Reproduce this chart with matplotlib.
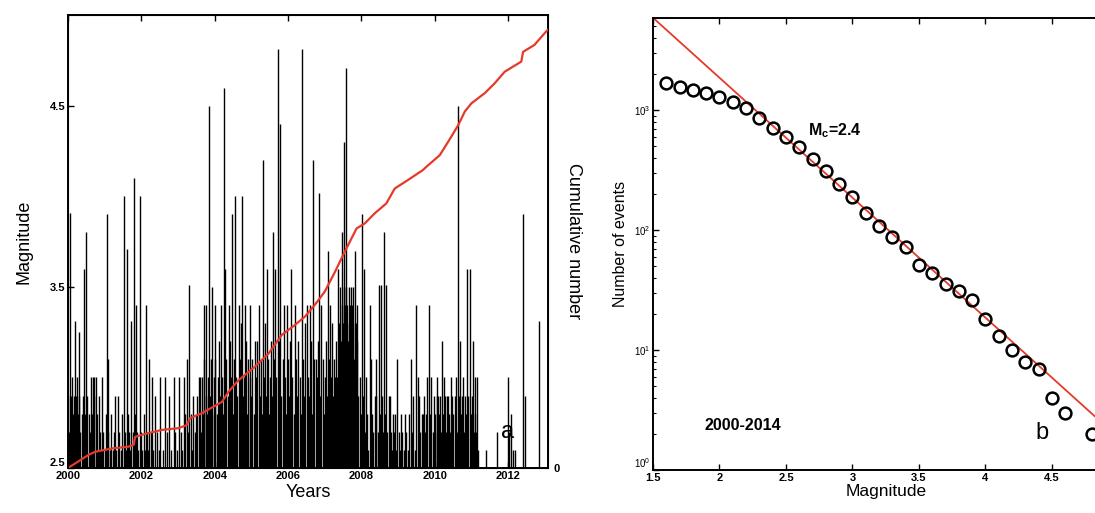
import numpy as np
import matplotlib
matplotlib.use("Agg")
import matplotlib.pyplot as plt
from matplotlib.ticker import LogLocator, NullFormatter

plt.rcParams['font.family'] = ['Liberation Sans', 'DejaVu Sans']
plt.rcParams['mathtext.fontset'] = 'custom'
plt.rcParams['mathtext.rm'] = 'Liberation Sans'
plt.rcParams['mathtext.bf'] = 'Liberation Sans:bold'

# --- (a) catalogue time series ---
# larger events (year, magnitude)
spike_year = [2000.06, 2000.20, 2000.29, 2000.43, 2000.50, 2000.68, 2000.72, 2000.84, 2000.93,
              2001.06, 2001.10, 2001.29, 2001.36, 2001.52, 2001.60, 2001.73, 2001.79, 2001.85,
              2001.95, 2002.13, 2002.22, 2002.29, 2002.38, 2002.52, 2002.65, 2002.76, 2002.88,
              2003.03, 2003.15, 2003.24, 2003.31, 2003.42, 2003.56, 2003.70, 2003.76, 2003.85,
              2003.92, 2004.00, 2004.17, 2004.26, 2004.29, 2004.38, 2004.47, 2004.56, 2004.65,
              2004.75, 2004.83, 2004.97, 2005.10, 2005.20, 2005.31, 2005.42, 2005.59, 2005.65,
              2005.72, 2005.79, 2005.88, 2005.97, 2006.09, 2006.19, 2006.38, 2006.51, 2006.60,
              2006.69, 2006.76, 2006.85, 2006.91, 2007.08, 2007.14, 2007.28, 2007.37, 2007.46,
              2007.53, 2007.58, 2007.82, 2007.87, 2008.02, 2008.07, 2008.23, 2008.27, 2008.36,
              2008.41, 2008.47, 2008.53, 2008.61, 2008.68, 2008.77, 2008.86, 2008.98, 2009.09,
              2009.18, 2009.35, 2009.41, 2009.50, 2009.55, 2009.68, 2009.84, 2009.91, 2010.05,
              2010.09, 2010.20, 2010.27, 2010.36, 2010.45, 2010.55, 2010.64, 2010.68, 2010.77,
              2010.89, 2010.95, 2011.04, 2011.11, 2011.16, 2011.41, 2011.71, 2012.00, 2012.09,
              2012.18, 2012.41, 2012.45, 2012.84]
spike_mag = [3.91, 3.31, 3.25, 3.60, 3.80, 3.00, 3.00, 2.90, 3.00,
             3.90, 3.10, 2.90, 2.90, 4.00, 3.71, 3.31, 4.10, 3.40,
             4.00, 3.40, 3.10, 3.00, 2.90, 3.00, 3.00, 2.90, 3.00,
             3.00, 3.00, 3.10, 3.51, 2.90, 3.00, 3.40, 3.40, 4.50,
             3.50, 3.40, 3.40, 4.60, 3.60, 3.40, 3.90, 4.00, 3.40,
             4.00, 3.40, 3.40, 3.20, 3.40, 4.20, 3.60, 3.80, 3.60,
             4.81, 4.40, 3.40, 3.40, 3.60, 3.40, 4.81, 3.40, 3.40,
             4.20, 3.10, 4.02, 3.40, 3.70, 3.40, 3.00, 3.60, 3.80,
             4.30, 4.71, 3.70, 3.40, 3.90, 3.60, 3.40, 3.10, 2.90,
             3.10, 3.51, 3.51, 3.80, 3.51, 2.90, 2.80, 3.10, 2.80,
             2.80, 3.10, 2.90, 3.40, 3.00, 2.80, 3.40, 3.00, 2.90,
             2.90, 3.20, 2.90, 2.90, 3.00, 2.90, 4.50, 3.20, 3.00,
             3.60, 3.60, 3.20, 3.00, 3.00, 2.60, 2.70, 3.00, 2.80,
             2.60, 3.90, 2.90, 3.31]

# smaller background events (year, magnitude)
minor_year = [2000.01, 2000.04, 2000.07, 2000.10, 2000.13, 2000.16, 2000.19, 2000.22, 2000.25,
              2000.28, 2000.31, 2000.34, 2000.37, 2000.40, 2000.45, 2000.48, 2000.53, 2000.56,
              2000.59, 2000.62, 2000.65, 2000.70, 2000.76, 2000.79, 2000.82, 2000.87, 2000.90,
              2000.96, 2001.01, 2001.04, 2001.09, 2001.14, 2001.18, 2001.22, 2001.25, 2001.32,
              2001.40, 2001.44, 2001.47, 2001.55, 2001.58, 2001.63, 2001.67, 2001.70, 2001.76,
              2001.82, 2001.88, 2001.91, 2001.98, 2002.02, 2002.06, 2002.10, 2002.16, 2002.19,
              2002.25, 2002.33, 2002.42, 2002.47, 2002.58, 2002.70, 2002.80, 2002.92, 2002.98,
              2003.08, 2003.12, 2003.19, 2003.28, 2003.35, 2003.38, 2003.46, 2003.50,
              2003.53, 2003.59, 2003.62, 2003.65, 2003.68, 2003.72, 2003.75, 2003.78, 2003.81,
              2003.88, 2003.90, 2003.94, 2003.97, 2004.02, 2004.05, 2004.08, 2004.11, 2004.14,
              2004.20, 2004.23, 2004.32, 2004.35, 2004.41, 2004.44, 2004.50, 2004.53, 2004.59,
              2004.62, 2004.68, 2004.71, 2004.78, 2004.80, 2004.86, 2004.89, 2004.92, 2004.95,
              2005.00, 2005.03, 2005.06, 2005.13, 2005.16, 2005.23, 2005.26, 2005.29, 2005.34,
              2005.37, 2005.40, 2005.45, 2005.48, 2005.51, 2005.54, 2005.57, 2005.62, 2005.68,
              2005.75, 2005.82, 2005.85, 2005.91, 2005.94, 2006.00, 2006.03, 2006.06, 2006.12,
              2006.15, 2006.22, 2006.25, 2006.28, 2006.32, 2006.35, 2006.41, 2006.44, 2006.47,
              2006.54, 2006.57, 2006.63, 2006.66, 2006.72, 2006.79, 2006.82, 2006.88, 2006.94,
              2006.97, 2007.00, 2007.03, 2007.06, 2007.11, 2007.17, 2007.20, 2007.23, 2007.26,
              2007.31, 2007.34, 2007.40, 2007.42, 2007.43, 2007.45, 2007.47, 2007.49, 2007.50,
              2007.52, 2007.55, 2007.56, 2007.57, 2007.59, 2007.60, 2007.62, 2007.63, 2007.65,
              2007.66, 2007.68, 2007.69, 2007.71, 2007.72, 2007.74, 2007.75, 2007.77, 2007.78,
              2007.80, 2007.84, 2007.86, 2007.89, 2007.92, 2007.95,
              2007.99, 2008.04, 2008.10, 2008.13, 2008.16, 2008.19, 2008.30, 2008.33, 2008.39,
              2008.44, 2008.50, 2008.56, 2008.59, 2008.64, 2008.71, 2008.74, 2008.80, 2008.83,
              2008.89, 2008.93, 2008.95, 2009.02, 2009.06, 2009.12, 2009.15, 2009.22, 2009.26,
              2009.30, 2009.38, 2009.45,
              2009.58, 2009.61, 2009.64, 2009.71, 2009.74, 2009.77, 2009.80, 2009.87, 2009.94,
              2009.97, 2010.00, 2010.02, 2010.07, 2010.12, 2010.15, 2010.18, 2010.23, 2010.25,
              2010.30, 2010.33, 2010.39, 2010.42, 2010.48, 2010.51, 2010.58, 2010.61, 2010.66,
              2010.71, 2010.74, 2010.80, 2010.83, 2010.86, 2010.92, 2010.98, 2011.01, 2011.07,
              2011.09, 2011.13, 2011.18, 2012.03, 2012.13]
minor_mag = [2.9, 2.7, 2.9, 3.0, 2.8, 2.9, 2.7, 2.9, 3.0,
             2.8, 2.9, 2.7, 2.8, 2.9, 2.8, 2.7, 2.9, 2.8,
             2.7, 3.0, 2.8, 2.9, 3.0, 2.8, 2.6, 2.7, 2.6,
             2.7, 2.6, 2.8, 2.7, 2.6, 2.8, 2.6, 2.7, 2.6,
             2.7, 2.6, 2.8, 2.7, 2.6, 2.8, 2.7, 2.6, 2.7,
             2.8, 2.7, 2.6, 2.7, 2.6, 2.8, 2.6, 2.7, 2.6,
             2.7, 2.6, 2.7, 2.6, 2.6, 2.7, 2.6, 2.7, 2.6,
             2.7, 2.6, 2.8, 2.7, 2.8, 2.6, 2.7, 2.8,
             2.9, 3.0, 2.7, 3.0, 2.8, 3.1, 2.9, 2.8, 3.0,
             2.9, 3.1, 2.8, 3.0, 3.1, 2.8, 3.0, 3.2, 2.9,
             3.0, 2.8, 3.1, 2.9, 3.2, 3.0, 2.8, 3.1, 3.0,
             2.9, 3.1, 3.3, 2.9, 3.0, 3.2, 2.8, 3.1, 3.0,
             2.9, 3.1, 2.8, 3.0, 3.2, 2.9, 3.1, 2.8, 3.0,
             3.3, 2.9, 3.1, 2.8, 3.0, 3.2, 2.9, 3.1, 3.0,
             3.2, 2.9, 3.1, 3.0, 2.8, 3.1, 2.9, 3.2, 3.0,
             2.8, 3.1, 2.9, 3.2, 3.0, 2.8, 3.1, 2.9, 3.3,
             3.0, 2.9, 3.2, 2.8, 3.1, 3.0, 3.2, 2.9, 3.1,
             2.8, 3.0, 3.2, 2.9, 3.1, 3.0, 3.3, 2.9, 3.1,
             3.2, 3.0, 3.3, 3.1, 3.5, 3.2, 3.4, 3.0, 3.3,
             3.5, 3.2, 3.4, 3.1, 3.5, 3.3, 3.4, 3.2, 3.5,
             3.1, 3.4, 3.3, 3.5, 3.2, 3.4, 3.0, 3.3, 3.5,
             3.1, 3.3, 3.0, 3.2, 2.9, 3.0,
             2.8, 2.9, 2.7, 3.0, 2.8, 2.6, 2.8, 2.7, 2.9,
             2.7, 2.8, 2.9, 2.7, 2.8, 2.7, 2.9, 2.7, 2.6,
             2.7, 2.8, 2.6, 2.7, 2.6, 2.7, 2.6, 2.7, 2.6,
             2.8, 2.7, 2.6,
             2.9, 2.7, 2.8, 2.9, 2.7, 2.8, 3.0, 2.8, 2.7,
             2.9, 2.8, 2.7, 3.0, 2.8, 2.9, 2.7, 2.8, 3.0,
             2.7, 2.9, 2.8, 2.7, 2.9, 2.8, 3.0, 2.7, 2.9,
             2.8, 2.9, 2.7, 2.9, 2.8, 2.9, 2.8, 2.9, 2.7,
             2.8, 2.7, 2.6, 2.7, 2.6]

# cumulative number of events
cum_year = [2000.00, 2000.56, 2000.74, 2001.20, 2001.65, 2001.79, 2001.83, 2002.20, 2002.56,
            2003.02, 2003.24, 2003.33, 2003.65, 2004.20, 2004.38, 2004.65, 2005.10, 2005.47,
            2005.83, 2006.19, 2006.46, 2006.73, 2007.00, 2007.28, 2007.50, 2007.73, 2007.87,
            2008.09, 2008.36, 2008.68, 2008.91, 2009.27, 2009.68, 2009.77, 2010.14, 2010.45,
            2010.64, 2010.82, 2011.00, 2011.36, 2011.63, 2011.91, 2012.36, 2012.41, 2012.72,
            2013.00, 2013.08]
cum_count = [0, 51, 63, 76, 83, 90, 121, 136, 148,
             155, 167, 194, 213, 257, 297, 341, 394, 445,
             517, 556, 588, 634, 685, 762, 827, 892, 931,
             950, 989, 1028, 1086, 1119, 1158, 1170, 1216, 1287,
             1332, 1385, 1417, 1456, 1494, 1540, 1579, 1617, 1644,
             1690, 1702]

# --- (b) frequency-magnitude distribution ---
fmd_mag = [1.6, 1.7, 1.8, 1.9, 2.0, 2.1, 2.2, 2.3, 2.4, 2.5, 2.6, 2.7, 2.8, 2.9, 3.0,
           3.1, 3.2, 3.3, 3.4, 3.5, 3.6, 3.7, 3.8, 3.9, 4.0, 4.1, 4.2, 4.3, 4.4, 4.5,
           4.6, 4.8]
fmd_count = [1680, 1550, 1470, 1390, 1280, 1170, 1040, 860, 710, 600, 490, 390, 310, 240, 190,
             138, 108, 87, 72, 51, 44, 35.5, 31, 26, 18, 13, 10, 8, 7, 4,
             3, 2]
gr_a, gr_b = 5.27, 1.0
gr_range = [1.5, 4.82]

red = '#e5392b'
tick_font = dict(fontsize=8, fontweight='bold')

fig = plt.figure(figsize=(10.95, 5.13), dpi=100)

# left panel
ax = fig.add_axes([0.0621, 0.0877, 0.4384, 0.883])
ax.vlines(minor_year, 2.5, minor_mag, color='black', lw=1.0)
ax.vlines(spike_year, 2.5, spike_mag, color='black', lw=1.0)
ax.set_xlim(2000, 2013.09)
ax.set_ylim(2.5, 5.0)
ax.set_xticks([2000, 2002, 2004, 2006, 2008, 2010, 2012])
ax.set_yticks([2.5, 3.5, 4.5])
ax.set_yticklabels(['2.5', '3.5', '4.5'], **tick_font)
ax.set_xticklabels([str(y) for y in range(2000, 2013, 2)], **tick_font)
ax.tick_params(direction='in', length=4, width=1, top=True, right=True, pad=2)
# lift the bottom label clear of the first year label
ax.get_yticklabels()[0].set_va('bottom')
ax.set_xlabel('Years', fontsize=13, labelpad=2)
ax.set_ylabel('Magnitude', fontsize=13, labelpad=12)
ax.text(2011.99, 2.7, 'a', fontsize=17, ha='center', va='center')
for s in ax.spines.values():
    s.set_linewidth(1.4)

ax2 = ax.twinx()
ax2.plot(cum_year, cum_count, color=red, lw=1.6)
ax2.set_ylim(0, 1760)
ax2.set_yticks([0])
ax2.set_yticklabels(['0'], **tick_font)
ax2.tick_params(direction='in', length=0, pad=4)
ax2.set_ylabel('Cumulative number', fontsize=13, rotation=270, labelpad=16)

# right panel
bx = fig.add_axes([0.5963, 0.0838, 0.4251, 0.881])
bx.semilogy(gr_range, [10 ** (gr_a - gr_b * m) for m in gr_range], color=red, lw=1.3)
bx.plot(fmd_mag, fmd_count, 'o', mfc='none', mec='black', mew=1.8, ms=8.5)
bx.set_xlim(1.5, 5.0)
bx.set_ylim(1, 5850)
bx.set_xticks([1.5, 2, 2.5, 3, 3.5, 4, 4.5])
bx.set_xticklabels(['1.5', '2', '2.5', '3', '3.5', '4', '4.5'], **tick_font)
bx.yaxis.set_major_locator(LogLocator(base=10, numticks=10))
bx.yaxis.set_minor_locator(LogLocator(base=10, subs=np.arange(2, 10), numticks=10))
bx.yaxis.set_minor_formatter(NullFormatter())
bx.tick_params(axis='both', which='major', direction='in', length=4, width=1, top=True, pad=2)
bx.tick_params(axis='y', which='minor', direction='in', length=2, width=0.8)
bx.tick_params(axis='y', labelsize=7)
bx.set_yticks([1, 10, 100, 1000])
bx.set_yticklabels([r'$10^0$', r'$10^1$', r'$10^2$', r'$10^3$'])
bx.get_yticklabels()[0].set_va('bottom')
bx.set_xlabel('Magnitude', fontsize=12.5, labelpad=1)
bx.set_ylabel('Number of events', fontsize=11.5, labelpad=4)
bx.text(2.665, 676, r'M$_{\mathbf{c}}$=2.4', fontsize=11.5, fontweight='bold',
        va='center', ha='left')
bx.text(1.89, 2.37, '2000-2014', fontsize=11.5, fontweight='bold', va='center', ha='left')
bx.text(4.425, 2.03, 'b', fontsize=17, va='center', ha='center')
for s in bx.spines.values():
    s.set_linewidth(1.4)

fig.savefig('out.png', dpi=100)
